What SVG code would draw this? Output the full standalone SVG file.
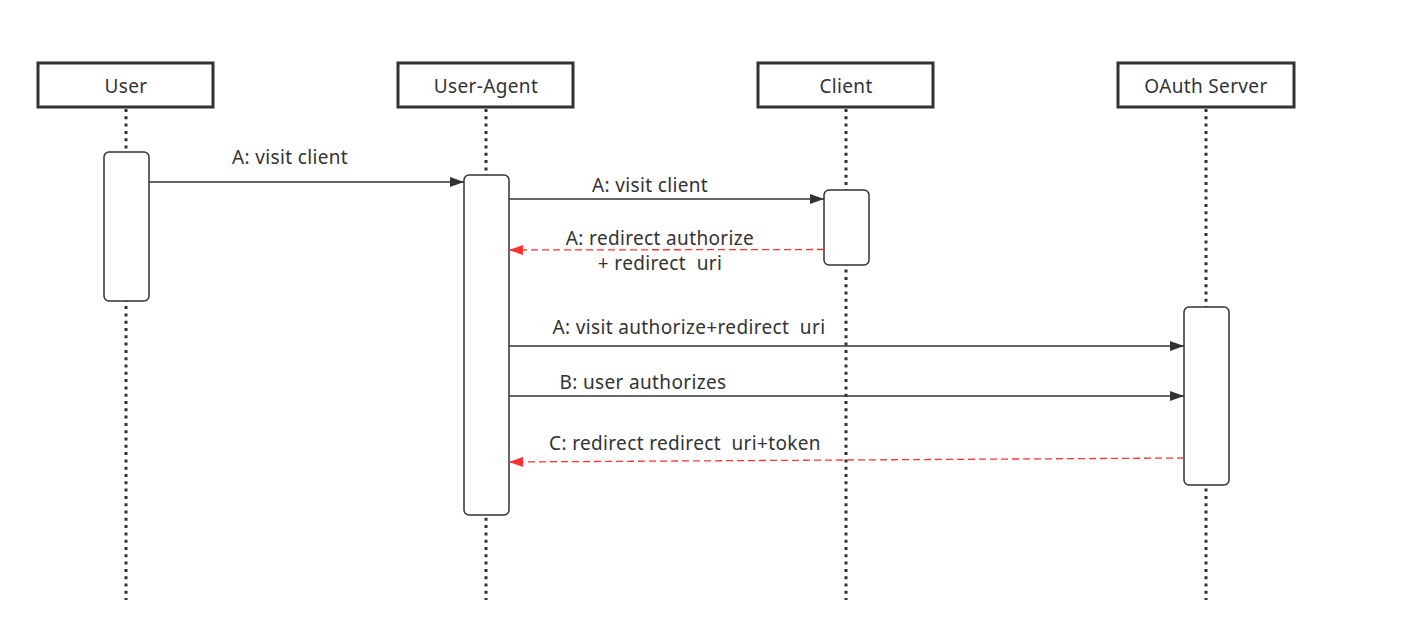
<svg xmlns="http://www.w3.org/2000/svg" width="1401" height="635" viewBox="0 0 1401 635">
<style>
text{font-family:"Noto Sans","Open Sans",sans-serif;font-size:19px;letter-spacing:0.35px;fill:#333;text-anchor:middle;white-space:pre}
.head{fill:#fff;stroke:#333;stroke-width:3}
.life{stroke:#333;stroke-width:3;stroke-dasharray:3 4.3;fill:none}
.act{fill:#fff;stroke:#333;stroke-width:1.5}
.msg{stroke:#333;stroke-width:1.3;fill:none;marker-end:url(#ah)}
.ret{stroke:#ff3333;stroke-width:1.3;stroke-dasharray:7 4;fill:none;marker-end:url(#ahr)}
</style>
<defs>
<marker id="ah" viewBox="0 0 14 10" refX="14" refY="5" markerWidth="14" markerHeight="10" markerUnits="userSpaceOnUse" orient="auto"><path d="M0,0 L14,5 L0,10 Z" fill="#333"/></marker>
<marker id="ahr" viewBox="0 0 14 10" refX="14" refY="5" markerWidth="14" markerHeight="10" markerUnits="userSpaceOnUse" orient="auto"><path d="M0,0 L14,5 L0,10 Z" fill="#ff3333"/></marker>
</defs>
<rect width="1401" height="635" fill="#fff"/>
<g id="lifelines">
<line class="life" x1="126" y1="109" x2="126" y2="600"/>
<line class="life" x1="486" y1="109" x2="486" y2="600"/>
<line class="life" x1="846" y1="109" x2="846" y2="600"/>
<line class="life" x1="1206" y1="109" x2="1206" y2="600"/>
</g>
<g id="user"><rect class="head" x="38" y="63" width="175" height="44"/><text x="126" y="93">User</text></g>
<g id="user-agent"><rect class="head" x="398" y="63" width="175" height="44"/><text x="486" y="93">User-Agent</text></g>
<g id="client"><rect class="head" x="758" y="63" width="175" height="44"/><text x="846" y="93">Client</text></g>
<g id="oauth-server"><rect class="head" x="1118" y="63" width="176" height="44"/><text x="1206" y="93">OAuth Server</text></g>
<g id="act-user"><rect class="act" x="104" y="152" width="45" height="149" rx="5"/></g>
<g id="act-user-agent"><rect class="act" x="464" y="175" width="45" height="340" rx="5"/></g>
<g id="act-client"><rect class="act" x="824" y="190" width="45" height="75" rx="5"/></g>
<g id="act-oauth"><rect class="act" x="1184" y="307" width="45" height="178" rx="5"/></g>
<g id="connectors">
<line class="msg" x1="149" y1="182" x2="464" y2="182"/>
<text x="290" y="164">A: visit client</text>
<line class="msg" x1="509" y1="199" x2="824" y2="199"/>
<text x="650" y="192">A: visit client</text>
<line class="ret" x1="824" y1="249.5" x2="509" y2="250"/>
<text x="660" y="245">A: redirect authorize</text>
<text x="660" y="270" xml:space="preserve">+ redirect  uri</text>
<line class="msg" x1="509" y1="346" x2="1184" y2="346"/>
<text x="689" y="334" xml:space="preserve">A: visit authorize+redirect  uri</text>
<line class="msg" x1="509" y1="396" x2="1184" y2="396"/>
<text x="643" y="389">B: user authorizes</text>
<line class="ret" x1="1184" y1="458" x2="509" y2="462"/>
<text x="685" y="450" xml:space="preserve">C: redirect redirect  uri+token</text>
</g>
</svg>
